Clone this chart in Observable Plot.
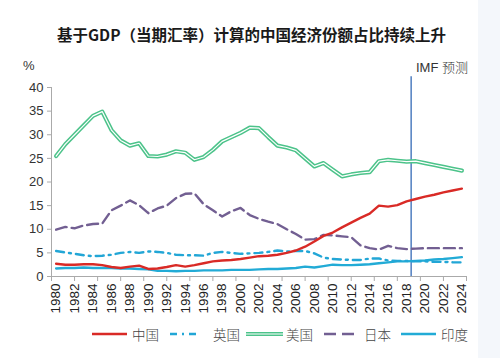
<!DOCTYPE html>
<html>
<head>
<meta charset="utf-8">
<script src="https://cdn.jsdelivr.net/npm/d3@7"></script>
<script src="https://cdn.jsdelivr.net/npm/@observablehq/plot@0.6"></script>
<style>
  html, body { margin: 0; padding: 0; background: #ffffff; }
  #wrap { position: relative; width: 500px; height: 358px; overflow: hidden; font-family: "Liberation Sans", Arial, sans-serif; }
  #tint { position: absolute; left: 478px; top: 0; width: 22px; height: 358px; background: #f4f7fb; }
  #title { position: absolute; left: 57px; top: 23px; font-family: "Noto Sans CJK SC", sans-serif; font-weight: 700; font-size: 15.5px; color: #1a1a1a; white-space: nowrap; letter-spacing: 0px; }
  .lab { position: absolute; font-size: 13px; color: #333; white-space: nowrap; }
  .leg { position: absolute; top: 325px; height: 18px; display: flex; align-items: center; font-family: "Noto Sans CJK SC", sans-serif; font-weight: 300; font-size: 13.5px; color: #444; white-space: nowrap; }
  .leg svg { display: block; margin-right: 3px; }
  #chart { position: absolute; left: 0; top: 0; }
</style>
</head>
<body>
<div id="wrap">
  <div id="tint"></div>
  <div id="chart"></div>
  <div id="title">基于GDP（当期汇率）计算的中国经济份额占比持续上升</div>
  <div class="lab" style="left:23px; top:58px;">%</div>
  <div class="lab" style="left:416px; top:57px; font-family:'Liberation Sans',sans-serif;">IMF <span style="font-family:'Noto Sans CJK SC',sans-serif; font-weight:300;">预测</span></div>
  <div id="legend"></div>
</div>
<script>
// ---- data ----
const years = d3.range(1980, 2025);
const china = [2.7,2.5,2.5,2.6,2.6,2.4,2.0,1.8,2.1,2.3,1.6,1.7,2.0,2.4,2.1,2.4,2.8,3.2,3.4,3.5,3.7,4.0,4.3,4.4,4.6,5.0,5.5,6.3,7.4,8.6,9.3,10.4,11.4,12.4,13.3,15.0,14.8,15.1,15.9,16.4,16.9,17.3,17.8,18.2,18.6];
const uk    = [5.4,5.1,4.8,4.5,4.3,4.4,4.6,5.0,5.2,5.0,5.3,5.2,5.0,4.6,4.5,4.5,4.4,5.0,5.2,5.0,4.8,4.9,5.0,5.2,5.5,5.3,5.4,5.4,4.9,4.0,3.7,3.6,3.5,3.5,3.8,3.8,3.4,3.3,3.3,3.2,3.2,3.1,3.1,3.0,3.0];
const us    = [25.5,28.0,30.0,32.0,34.0,34.9,31.0,28.8,27.7,28.2,25.5,25.4,25.8,26.5,26.2,24.7,25.3,26.8,28.6,29.5,30.4,31.5,31.4,29.5,27.7,27.3,26.7,25.0,23.3,24.0,22.6,21.2,21.6,21.9,22.1,24.4,24.7,24.5,24.3,24.4,24.0,23.6,23.2,22.8,22.4];
const japan = [9.9,10.5,10.2,10.8,11.1,11.2,14.0,15.0,16.1,15.1,13.4,14.4,15.0,16.6,17.5,17.6,15.3,14.0,12.7,13.8,14.5,13.0,12.2,11.6,11.1,10.0,9.0,7.8,7.9,8.8,8.7,8.5,8.3,6.6,6.0,5.7,6.5,6.0,5.8,5.9,6.0,6.0,6.0,6.0,6.0];
const india = [1.7,1.8,1.8,1.9,1.8,1.8,1.8,1.7,1.7,1.6,1.5,1.2,1.2,1.1,1.2,1.2,1.3,1.3,1.3,1.4,1.4,1.4,1.5,1.6,1.6,1.7,1.8,2.1,1.9,2.2,2.5,2.4,2.4,2.5,2.6,2.8,3.0,3.2,3.2,3.3,3.4,3.6,3.7,3.9,4.1];
const yTicks = [0,5,10,15,20,25,30,35,40];
const xLabels = d3.range(1980, 2025, 2);
const xTickMarks = d3.range(0, 19).map(k => 1979.5 + 2.5 * k);
const forecastStart = 2018.5;
const seriesNames = ["中国", "英国", "美国", "日本", "印度"];

const colors = { china: "#d92a26", uk: "#22a6d6", us: "#4cc38a", japan: "#725f92", india: "#22abd6", imf: "#5b86c4", axis: "#aaaaaa" };

const rows = (vals) => years.map((y, i) => ({ year: y, v: vals[i] }));

const chart = Plot.plot({
  width: 500,
  height: 358,
  marginLeft: 51,
  marginRight: 34,
  marginTop: 87,
  marginBottom: 82,
  style: { background: "transparent", fontFamily: "'Liberation Sans', Arial, sans-serif", fontSize: "12px", color: "#333" },
  x: { domain: [1979.5, 2024.5], axis: null },
  y: { domain: [0, 40], axis: null },
  marks: [
    Plot.ruleX([1979.5], { y1: 0, y2: 40, stroke: colors.axis }),
    Plot.ruleY([0], { stroke: colors.axis }),
    Plot.axisY({ ticks: yTicks, tickSize: 4, tickPadding: 4, stroke: colors.axis, fontSize: 13, color: "#333", label: null }),
    Plot.axisX({ ticks: xTickMarks, tickSize: 5, tickFormat: () => "", stroke: colors.axis, label: null }),
    Plot.axisX({ ticks: xLabels, tickSize: 0, tickPadding: 7, tickRotate: -90, tickFormat: d => String(d), fontSize: 13.5, color: "#222", label: null }),
    Plot.ruleX([forecastStart], { y1: 0, y2: 42.3, stroke: colors.imf, strokeWidth: 1.6 }),
    Plot.line(rows(india), { x: "year", y: "v", stroke: colors.india, strokeWidth: 2.4 }),
    Plot.line(rows(uk), { x: "year", y: "v", stroke: colors.uk, strokeWidth: 2.4, strokeDasharray: "8,5,2,5" }),
    Plot.line(rows(japan), { x: "year", y: "v", stroke: colors.japan, strokeWidth: 2.4, strokeDasharray: "11,5" }),
    Plot.line(rows(us), { x: "year", y: "v", stroke: colors.us, strokeWidth: 4.2 }),
    Plot.line(rows(us), { x: "year", y: "v", stroke: "#ffffff", strokeWidth: 1.2 }),
    Plot.line(rows(china), { x: "year", y: "v", stroke: colors.china, strokeWidth: 2.4 })
  ]
});
document.getElementById("chart").appendChild(chart);

// ---- legend ----
const legendItems = [
  { name: seriesNames[0], left: 92, swatch: `<line x1="0" y1="9" x2="35" y2="9" stroke="${colors.china}" stroke-width="2.4"/>` },
  { name: seriesNames[1], left: 168, swatch: `<line x1="2" y1="9" x2="33" y2="9" stroke="${colors.uk}" stroke-width="2.4" stroke-dasharray="7,5,2,5"/>`, gap: 8 },
  { name: seriesNames[2], left: 246, swatch: `<line x1="0" y1="9" x2="37" y2="9" stroke="${colors.us}" stroke-width="4.2"/><line x1="0" y1="9" x2="37" y2="9" stroke="#fff" stroke-width="1.2"/>` },
  { name: seriesNames[3], left: 324, swatch: `<line x1="0" y1="9" x2="35" y2="9" stroke="${colors.japan}" stroke-width="2.4" stroke-dasharray="12,6"/>` },
  { name: seriesNames[4], left: 401, swatch: `<line x1="0" y1="9" x2="35" y2="9" stroke="${colors.india}" stroke-width="2.4"/>` }
];
const legend = document.getElementById("legend");
legendItems.forEach(it => {
  const d = document.createElement("div");
  d.className = "leg";
  d.style.left = it.left + "px";
  d.innerHTML = `<svg width="37" height="18" style="margin-right:${it.gap || 3}px">${it.swatch}</svg><span>${it.name}</span>`;
  legend.appendChild(d);
});
</script>
</body>
</html>
